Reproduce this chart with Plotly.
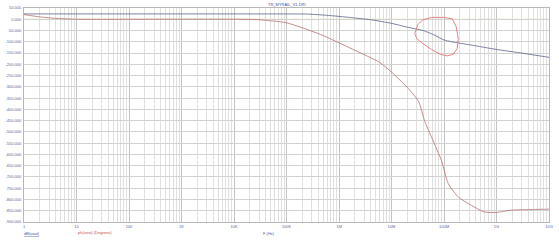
import plotly.graph_objects as go

# ---- data ----
db_freq = [1, 1e3, 1e5, 2.5e5, 6.3e5, 1.6e6, 4e6, 1e7, 2e7, 4e7, 6.3e7, 1e8, 1.4e8, 3.2e8, 1e9, 3.2e9, 1e10]
db_vals = [23.7, 23.7, 23.6, 23.0, 17.0, 8.0, -2.0, -18.0, -35.0, -50.0, -68.0, -92.0, -100.0, -114.0, -134.0, -151.0, -169.0]

ph_freq = [1, 2, 4, 7, 10, 2.4e4, 5e4, 1e5, 4.4e5, 1.8e6, 5.9e6, 1e7, 2.1e7, 3.3e7, 4.3e7,
           6.6e7, 9e7, 1.2e8, 1.9e8, 3.3e8, 5.8e8, 1e9, 1.9e9, 5e9, 1e10]
ph_vals = [20.7, 10.6, 4.0, 1.5, 0.0, -1.0, -6.8, -15.5, -67.0, -132.6, -191.0, -234.6, -307.7, -366.0, -453.0,
           -554.0, -628.6, -729.0, -790.6, -825.7, -855.0, -857.6, -847.5, -844.5, -843.0]

x_tick_vals = [1, 10, 100, 1e3, 1e4, 1e5, 1e6, 1e7, 1e8, 1e9, 1e10]
x_tick_text = ["1", "10", "100", "1K", "10K", "100K", "1M", "10M", "100M", "1G", "10G"]
y_tick_vals = [50, 0, -50, -100, -150, -200, -250, -300, -350, -400, -450, -500,
               -550, -600, -650, -700, -750, -800, -850, -900]
y_tick_text = [f"{v:.3f}" for v in y_tick_vals]

title_text = "TR_MYRAIL_V1.DRI"
x_title = "F (Hz)"
legend_db = "dB(vout)"
legend_ph = "ph(vout) (Degrees)"

# hand-drawn red circle annotation (paper coords of the plot area)
W, H = 559, 240
ML, MR, MT, MB = 17, 10, 5, 18
PW, PH = W - ML - MR, H - MT - MB
circle_px = [(413, 31), (416, 22), (421, 17), (430, 14.5), (442, 14.5), (451, 16), (455, 24),
             (457, 36), (456, 46), (452, 52), (446, 53.5), (439, 52), (430, 47), (421, 41), (415, 36)]


def to_paper(px, py):
    return (px - ML) / PW, (H - MB - py) / PH


pts = [to_paper(px, py) for px, py in circle_px]
path = "M " + " L ".join(f"{x:.4f},{y:.4f}" for x, y in pts) + " Z"

fig = go.Figure()
fig.add_trace(go.Scatter(x=ph_freq, y=ph_vals, mode="lines",
                         line=dict(color="#b87272", width=0.8, shape="spline", smoothing=0.6),
                         name=legend_ph, showlegend=False))
fig.add_trace(go.Scatter(x=db_freq, y=db_vals, mode="lines",
                         line=dict(color="#5c6488", width=0.8, shape="spline", smoothing=0.6),
                         name=legend_db, showlegend=False))

fig.add_shape(type="line", xref="paper", yref="y", x0=0, x1=1, y0=0, y1=0,
              line=dict(color="#e2dca0", width=1), layer="below")
fig.add_shape(type="path", xref="paper", yref="paper", path=path,
              line=dict(color="#e07878", width=0.9))

font_small = dict(family="Liberation Sans, Arial", size=4, color="#5866a0")

fig.update_layout(
    width=W, height=H, autosize=False,
    margin=dict(l=ML, r=MR, t=MT, b=MB, pad=0),
    paper_bgcolor="white", plot_bgcolor="white",
    showlegend=False,
    xaxis=dict(type="log", range=[0, 10], tickmode="array", tickvals=x_tick_vals, ticktext=x_tick_text,
               showgrid=True, gridcolor="#c4c4c4", gridwidth=1,
               minor=dict(dtick="D1", showgrid=True, gridcolor="#e0e0e0", gridwidth=1, ticks=""),
               showline=True, linecolor="#b8b8b8", mirror=True, ticks="", zeroline=False,
               tickfont=font_small, ticklabelstandoff=0),
    yaxis=dict(range=[-900, 50], tickmode="array", tickvals=y_tick_vals, ticktext=y_tick_text,
               showgrid=True, gridcolor="#d2d2d2", gridwidth=1,
               showline=True, linecolor="#b8b8b8", mirror=True, ticks="", zeroline=False,
               tickfont=font_small, ticklabelstandoff=1),
    annotations=[
        dict(text=title_text, xref="paper", yref="paper", x=0.5, y=1, yanchor="bottom", xanchor="center",
             showarrow=False, font=dict(family="Liberation Sans, Arial", size=4, color="#4050a0"), yshift=-1),
        dict(text=x_title, xref="paper", yref="paper", x=(265 - ML) / PW, y=to_paper(0, 234)[1],
             xanchor="center", yanchor="middle", showarrow=False, font=font_small),
        dict(text="<u>" + legend_db + "</u>", xref="paper", yref="paper", x=0, y=to_paper(0, 234)[1],
             xanchor="left", yanchor="middle", showarrow=False, xshift=-2,
             font=dict(family="Liberation Sans, Arial", size=4, color="#4050a0")),
        dict(text=legend_ph, xref="paper", yref="paper", x=(70 - ML) / PW, y=to_paper(0, 233)[1],
             xanchor="left", yanchor="middle", showarrow=False,
             font=dict(family="Liberation Sans, Arial", size=4, color="#c05050")),
    ],
)

fig.write_html("out.html")
